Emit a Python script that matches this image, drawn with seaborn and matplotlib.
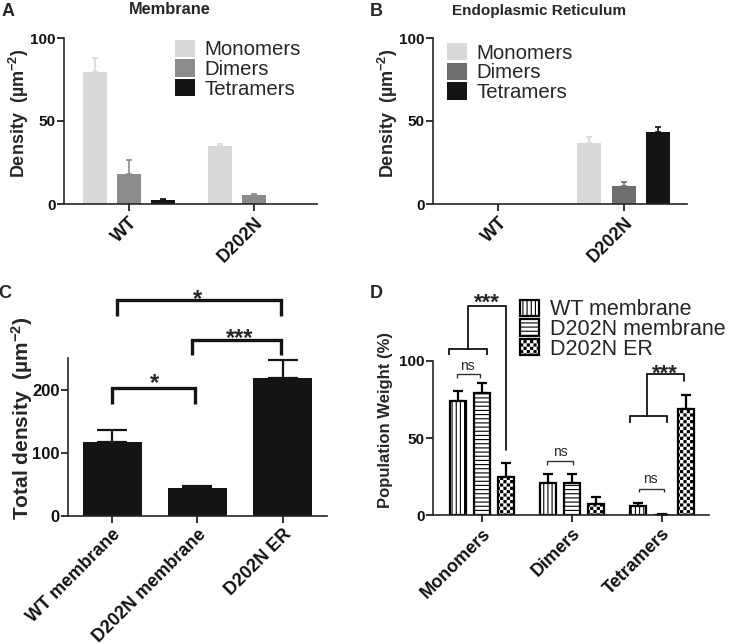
import numpy as np
import pandas as pd
import matplotlib
matplotlib.use("Agg")
import matplotlib.pyplot as plt
import matplotlib.hatch as mhatch
from matplotlib.path import Path
from matplotlib.patches import Patch
import seaborn as sns

# ---------------- data ----------------
groups_ab = ["WT", "D202N"]
species = ["Monomers", "Dimers", "Tetramers"]

# Panel A (membrane)
mem_monomers = [79.8, 35.2]
mem_monomers_sem = [8.1, 1.0]
mem_dimers = [18.1, 5.6]
mem_dimers_sem = [8.5, 0.4]
mem_tetramers = [2.2, 0.0]
mem_tetramers_sem = [1.0, 0.0]

# Panel B (ER)
er_monomers = [0.0, 36.6]
er_monomers_sem = [0.0, 3.6]
er_dimers = [0.0, 10.9]
er_dimers_sem = [0.0, 2.6]
er_tetramers = [0.0, 43.6]
er_tetramers_sem = [0.0, 2.7]

# Panel C
conditions = ["WT membrane", "D202N membrane", "D202N ER"]
total_density = [117.0, 44.0, 218.5]
total_density_sem = [19.5, 4.0, 29.0]

# Panel D
wt_membrane = [74.4, 20.8, 6.0]
wt_membrane_sem = [6.0, 5.9, 1.8]
d202n_membrane = [79.4, 20.8, 0.5]
d202n_membrane_sem = [6.5, 6.2, 0.3]
d202n_er = [25.1, 7.1, 69.0]
d202n_er_sem = [8.7, 4.8, 9.0]

# ---------------- custom checkerboard hatch (replaces '*') ----------------
class CheckerHatch(mhatch.HatchPatternBase):
    def __init__(self, hatch, density):
        self.n = hatch.count('*') * 5
        self.cells = [(i, j) for i in range(self.n) for j in range(self.n)
                      if (i + j) % 2 == 0]
        self.num_vertices = len(self.cells) * 5

    def set_vertices_and_codes(self, vertices, codes):
        c = 1.0 / self.n
        s = c * 0.62
        off = (c - s) / 2
        k = 0
        for (i, j) in self.cells:
            x0 = i * c + off
            y0 = j * c + off
            vertices[k:k + 5] = [(x0, y0), (x0 + s, y0), (x0 + s, y0 + s),
                                 (x0, y0 + s), (x0, y0)]
            codes[k:k + 5] = [Path.MOVETO, Path.LINETO, Path.LINETO,
                              Path.LINETO, Path.CLOSEPOLY]
            k += 5

mhatch._hatch_types = [t for t in mhatch._hatch_types if t is not mhatch.Stars] + [CheckerHatch]

# ---------------- style ----------------
sns.set_style("ticks")
plt.rcParams["font.family"] = ["Liberation Sans", "DejaVu Sans"]
plt.rcParams["mathtext.fontset"] = "custom"
plt.rcParams["mathtext.rm"] = "Liberation Sans"
plt.rcParams["mathtext.bf"] = "Liberation Sans:bold"
plt.rcParams["mathtext.default"] = "bf"
plt.rcParams["hatch.linewidth"] = 0.8
plt.rcParams["axes.linewidth"] = 1.2

W, H = 736, 644
fig = plt.figure(figsize=(W / 100, H / 100), dpi=100)


def axes_px(left, top, right, bottom):
    return fig.add_axes([left / W, 1 - bottom / H, (right - left) / W, (bottom - top) / H])


def style_axes(ax, ysize, xsize):
    sns.despine(ax=ax)
    ax.tick_params(axis="both", direction="out", length=5, width=1.2, colors="#111111")
    ax.tick_params(axis="y", labelsize=ysize, pad=1)
    ax.tick_params(axis="x", labelsize=xsize, pad=2)
    for lbl in ax.get_yticklabels():
        lbl.set_fontweight("bold")
    for lbl in ax.get_xticklabels():
        lbl.set_fontweight("bold")
        lbl.set_rotation(45)
        lbl.set_ha("right")
        lbl.set_va("top")
        lbl.set_rotation_mode("anchor")


def add_errors(ax, means_list, sems_list, colors, capsize, lw):
    for cont, means, sems, col in zip(ax.containers, means_list, sems_list, colors):
        for bar, m, s in zip(cont, means, sems):
            if m <= 0 and s <= 0:
                continue
            x = bar.get_x() + bar.get_width() / 2
            ax.errorbar([x], [m], yerr=[[0], [s]], fmt="none", ecolor=col,
                        elinewidth=lw, capsize=capsize, capthick=lw, zorder=1)


# ---------------- Panel A & B ----------------
colors_A = ["#d9d9d9", "#8c8c8c", "#141414"]
colors_B = ["#d9d9d9", "#6e6e6e", "#141414"]

def panel_ab(ax, m, d, t, ms, ds, ts, colors, legend_anchor):
    df = pd.DataFrame({
        "group": groups_ab * 3,
        "species": [species[0]] * 2 + [species[1]] * 2 + [species[2]] * 2,
        "value": m + d + t,
    })
    sns.barplot(data=df, x="group", y="value", hue="species", hue_order=species,
                palette=colors, width=0.82, gap=0.3, errorbar=None, saturation=1,
                linewidth=0, legend=False, ax=ax)
    for cont in ax.containers:
        for b in cont:
            b.set_zorder(2)
    add_errors(ax, [m, d, t], [ms, ds, ts], colors, 2.5, 1.2)
    ax.set_xlim(-0.52, 1.504)
    ax.set_ylim(0, 100)
    ax.set_yticks([0, 50, 100])
    ax.set_xlabel("")
    ax.set_ylabel(r"Density  (µm$^{-2}$)", fontsize=13, fontweight="bold")
    style_axes(ax, 11, 13)
    handles = [Patch(facecolor=c, edgecolor="none") for c in colors]
    ax.legend(handles, species, loc="upper left", bbox_to_anchor=legend_anchor,
              frameon=False, fontsize=14.7, handlelength=0.98, handleheight=0.93,
              handletextpad=0.45, labelspacing=0.0, borderpad=0, borderaxespad=0)

axA = axes_px(64, 38, 317, 204)
panel_ab(axA, mem_monomers, mem_dimers, mem_tetramers,
         mem_monomers_sem, mem_dimers_sem, mem_tetramers_sem, colors_A, (0.439, 0.99))
axA.yaxis.set_label_coords(-0.13, 0.548)

axB = axes_px(433, 38, 687, 204)
panel_ab(axB, er_monomers, er_dimers, er_tetramers,
         er_monomers_sem, er_dimers_sem, er_tetramers_sem, colors_B, (0.055, 0.97))
axB.yaxis.set_label_coords(-0.13, 0.548)

fig.text(170 / W, 1 - 10 / H, "Membrane", ha="center", va="center",
         fontsize=11.8, fontweight="bold")
fig.text(539.5 / W, 1 - 10.5 / H, "Endoplasmic Reticulum", ha="center", va="center",
         fontsize=11, fontweight="bold")

# ---------------- Panel C ----------------
axC = axes_px(68, 358, 327, 516)
dfC = pd.DataFrame({"cond": conditions, "total": total_density})
sns.barplot(data=dfC, x="cond", y="total", color="#141414", saturation=1, width=0.69,
            errorbar=None, linewidth=0, ax=axC)
for cont in axC.containers:
    for b in cont:
        b.set_zorder(2)
add_errors(axC, [total_density], [total_density_sem], ["#141414"], 11, 1.6)
axC.set_xlim(-0.515, 2.515)
axC.set_ylim(0, 250)
axC.set_yticks([0, 100, 200])
axC.set_xlabel("")
axC.set_ylabel(r"Total density  (µm$^{-2}$)", fontsize=15, fontweight="bold")
axC.yaxis.set_label_coords(-0.128, 0.617)
style_axes(axC, 12, 13)

def bracket(ax, x0, x1, ytop, yleg0, yleg1=None, lw=2.4, color="#141414"):
    if yleg1 is None:
        yleg1 = yleg0
    ax.plot([x0, x0, x1, x1], [yleg0, ytop, ytop, yleg1], color=color, lw=lw,
            clip_on=False, solid_joinstyle="miter", solid_capstyle="butt", zorder=5)

bracket(axC, 0.0, 0.97, 202, 178)
bracket(axC, 0.94, 1.98, 279, 254)
bracket(axC, 0.06, 1.975, 341, 316)
axC.text(0.5, 199, "*", ha="center", va="baseline", fontsize=17, fontweight="bold",
         clip_on=False)
axC.text(1.497, 271, "***", ha="center", va="baseline", fontsize=17, fontweight="bold",
         clip_on=False)
axC.text(1.0, 333, "*", ha="center", va="baseline", fontsize=17, fontweight="bold",
         clip_on=False)

# ---------------- Panel D ----------------
axD = axes_px(433, 361, 709, 515.3)
cond_D = ["WT membrane", "D202N membrane", "D202N ER"]
dfD = pd.DataFrame({
    "cat": species * 3,
    "cond": [cond_D[0]] * 3 + [cond_D[1]] * 3 + [cond_D[2]] * 3,
    "val": wt_membrane + d202n_membrane + d202n_er,
})
sns.barplot(data=dfD, x="cat", y="val", hue="cond", hue_order=cond_D,
            palette=["white"] * 3, edgecolor="black", linewidth=1.6, width=0.8, gap=0.34,
            errorbar=None, saturation=1, legend=False, ax=axD)
hatches = ["||||", "----", "******"]
for cont, h in zip(axD.containers, hatches):
    for b in cont:
        b.set_hatch(h)
        b.set_zorder(2)
add_errors(axD, [wt_membrane, d202n_membrane, d202n_er],
           [wt_membrane_sem, d202n_membrane_sem, d202n_er_sem],
           ["black"] * 3, 3.6, 1.6)
axD.set_xlim(-0.54, 2.525)
axD.set_ylim(0, 100)
axD.set_yticks([0, 50, 100])
axD.set_xlabel("")
axD.set_ylabel("Population Weight (%)", fontsize=12, fontweight="bold")
axD.yaxis.set_label_coords(-0.145, 0.619)
style_axes(axD, 11, 13)

handlesD = [Patch(facecolor="white", edgecolor="black", hatch=h, linewidth=1.6)
            for h in hatches]
axD.legend(handlesD, cond_D, loc="upper left", bbox_to_anchor=(0.315, 1.40),
           frameon=False, fontsize=15.5, handlelength=0.9, handleheight=0.78,
           handletextpad=0.5, labelspacing=-0.06, borderpad=0, borderaxespad=0)

# significance annotations in D
bracket(axD, -0.27, -0.02, 91.7, 89.1, lw=1.0, color="#333333")
axD.text(-0.156, 94.2, "ns", ha="center", va="baseline", fontsize=10, clip_on=False)
bracket(axD, -0.36, 0.056, 108, 103.8, lw=1.2, color="black")
axD.plot([-0.156, -0.156, 0.267, 0.267], [108, 135.7, 135.7, 42.5], color="black",
         lw=1.2, clip_on=False, solid_joinstyle="miter", zorder=5)
axD.text(0.056, 134, "***", ha="center", va="baseline", fontsize=16, fontweight="bold",
         clip_on=False)

bracket(axD, 0.729, 1.011, 34.9, 32.7, lw=1.0, color="#333333")
axD.text(0.87, 38.2, "ns", ha="center", va="baseline", fontsize=10, clip_on=False)

bracket(axD, 1.744, 2.025, 16.9, 15.0, lw=1.0, color="#333333")
axD.text(1.878, 20.8, "ns", ha="center", va="baseline", fontsize=10, clip_on=False)

bracket(axD, 1.648, 2.062, 64.2, 59.9, lw=1.2, color="black")
axD.plot([1.84, 1.84, 2.248, 2.248], [64.2, 91.3, 91.3, 86.9], color="black",
         lw=1.2, clip_on=False, solid_joinstyle="miter", zorder=5)
axD.text(2.037, 88, "***", ha="center", va="baseline", fontsize=16, fontweight="bold",
         clip_on=False)

# ---------------- panel letters ----------------
for lbl, x, y in [("A", 8, 11), ("B", 376, 11), ("C", 5, 294), ("D", 376, 294)]:
    fig.text(x / W, 1 - y / H, lbl, ha="center", va="center", fontsize=13,
             fontweight="bold")

fig.savefig("out.png", dpi=100)
